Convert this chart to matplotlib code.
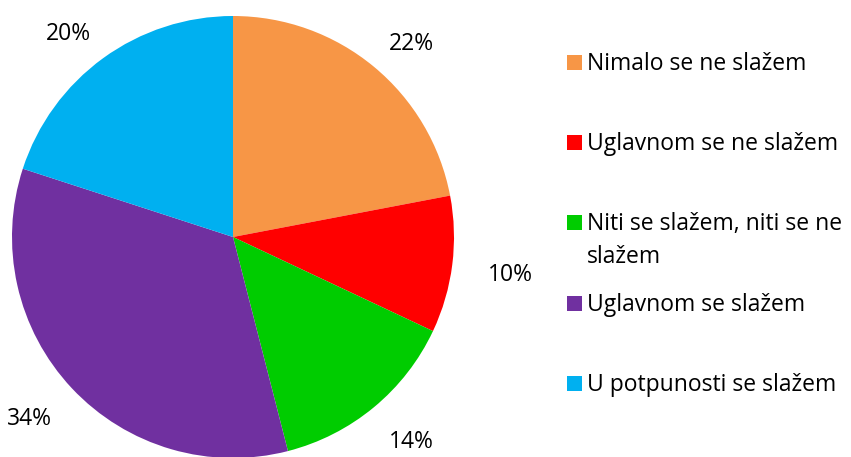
import matplotlib
matplotlib.use("Agg")
import matplotlib.pyplot as plt
from matplotlib.patches import Rectangle

# 데이터
categories = [
    "Nimalo se ne slažem",
    "Uglavnom se ne slažem",
    "Niti se slažem, niti se ne\nslažem",
    "Uglavnom se slažem",
    "U potpunosti se slažem",
]
values = [22, 10, 14, 34, 20]
colors = ["#F79646", "#FF0000", "#00CC00", "#7030A0", "#00B0F0"]

plt.rcParams["font.family"] = ["Open Sans", "DejaVu Sans"]

W, H = 851, 457
fig = plt.figure(figsize=(W / 100, H / 100), dpi=100)
ax = fig.add_axes([0, 0, 1, 1])

cx, cy = 233, H - 237
wedges, texts, autotexts = ax.pie(
    values,
    colors=colors,
    startangle=90,
    counterclock=False,
    center=(cx, cy),
    radius=221,
    autopct=lambda p: f"{p:.0f}%",
    pctdistance=1.215,
    textprops={"fontsize": 16.5, "color": "#000000"},
    wedgeprops={"linewidth": 0},
)
# 엑셀처럼 라벨을 약간 옆으로 벌린다 (가로 조금 멀리, 세로 조금 가까이)
for t in autotexts:
    x, y = t.get_position()
    t.set_position((cx + (x - cx) * 1.04, cy + (y - cy) * 0.96 - 6))

ax.set_xlim(0, W)
ax.set_ylim(0, H)
ax.set_aspect("equal")
ax.axis("off")

# 범례 (첫 줄 기준으로 균등 간격, 줄마다 따로 배치)
top_y = 62.5
step = 80.2
line_h = 33
for i, (name, col) in enumerate(zip(categories, colors)):
    y = top_y + i * step
    fig.patches.append(Rectangle((567 / W, 1 - (y + 7.5) / H), 15 / W, 15 / H,
                                 transform=fig.transFigure, facecolor=col, edgecolor="none"))
    for k, line in enumerate(name.split("\n")):
        base = y + 7.5 + k * line_h
        fig.text(587 / W, 1 - base / H, line, fontsize=16.5, va="baseline", ha="left",
                 color="#000000")

fig.savefig("out.png", dpi=100)
